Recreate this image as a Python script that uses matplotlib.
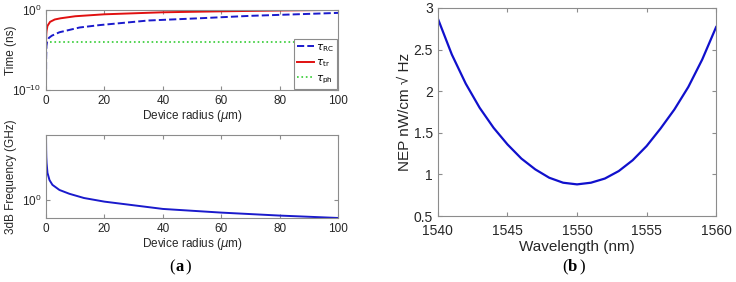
import matplotlib
matplotlib.use("Agg")
import matplotlib.pyplot as plt
from matplotlib.ticker import NullLocator

# (a) top: time constants vs device radius (um), values in ns
r_tr = [0, 0.05, 0.1, 0.2, 0.5, 1.4, 3, 5, 10, 20, 40, 60, 80, 100]
tau_tr = [1.6e-5, 3.2e-4, 1.0e-3, 2.5e-3, 1.0e-2, 3.2e-2, 6.3e-2, 8.9e-2,
          0.16, 0.28, 0.5, 0.66, 0.83, 1.0]
r_rc = [0, 0.05, 0.15, 0.4, 1, 2, 4.6, 11.5, 18.4, 35, 53, 70, 87, 100]
tau_rc = [1e-10, 1e-6, 3e-5, 1.3e-4, 3.2e-4, 6e-4, 1.6e-3, 6.3e-3, 1.26e-2,
          4.7e-2, 9.1e-2, 0.18, 0.29, 0.42]
r_ph = [1.5, 100]
tau_ph = [1e-4, 1e-4]

# (a) bottom: 3dB frequency (GHz)
r_f = [0, 0.05, 0.1, 0.2, 0.5, 1.2, 2.2, 4.6, 8, 13, 20, 40, 60, 80, 100]
f3db = [5.4, 3.6, 3.0, 2.57, 2.0, 1.66, 1.47, 1.29, 1.17, 1.05, 0.957,
        0.794, 0.723, 0.67, 0.63]

# (b) NEP vs wavelength
wl = [1540, 1541, 1542, 1543, 1544, 1545, 1546, 1547, 1548, 1549, 1550,
      1551, 1552, 1553, 1554, 1555, 1556, 1557, 1558, 1559, 1560]
nep = [2.87, 2.44, 2.09, 1.80, 1.56, 1.36, 1.19, 1.06, 0.96, 0.90, 0.88,
       0.90, 0.95, 1.04, 1.17, 1.34, 1.55, 1.78, 2.05, 2.38, 2.77]

plt.rcParams['font.family'] = ['Liberation Sans', 'DejaVu Sans']
plt.rcParams['mathtext.fontset'] = 'dejavusans'
axcol = '#8c8c8c'
txtcol = '#262626'


def style(ax, fs):
    for s in ax.spines.values():
        s.set_color(axcol)
        s.set_linewidth(0.8)
    ax.tick_params(direction='in', top=True, right=True, length=3,
                   color=axcol, labelcolor=txtcol, labelsize=fs, width=0.8)


fig = plt.figure(figsize=(7.36, 2.82), dpi=100)

ax1 = fig.add_axes([0.0625, 0.681, 0.397, 0.284])
ax1.plot(r_rc, tau_rc, '--', color='#1a1acc', lw=1.4, label=r'$\tau_{\rm RC}$')
ax1.plot(r_tr, tau_tr, '-', color='#e01010', lw=1.4, label=r'$\tau_{\rm tr}$')
ax1.plot(r_ph, tau_ph, ':', color='#33cc33', lw=1.2, label=r'$\tau_{\rm ph}$')
ax1.set_yscale('log')
ax1.set_ylim(1e-10, 1)
ax1.set_xlim(0, 100)
ax1.set_yticks([1e-10, 1e0])
ax1.yaxis.set_minor_locator(NullLocator())
ax1.set_xticks([0, 20, 40, 60, 80, 100])
ax1.set_xlabel(r'Device radius ($\mu$m)', fontsize=8.5, color=txtcol, labelpad=1)
ax1.set_ylabel('Time (ns)', fontsize=8.5, color=txtcol)
ax1.yaxis.set_label_coords(-0.10, 0.5)
style(ax1, 8.5)
leg = ax1.legend(loc='lower right', fontsize=7.5, handlelength=1.6,
                 handletextpad=0.2, labelspacing=0.35, borderpad=0.3,
                 fancybox=False, framealpha=1, borderaxespad=0.1)
leg.get_frame().set_edgecolor(axcol)
leg.get_frame().set_linewidth(0.8)

ax2 = fig.add_axes([0.0625, 0.227, 0.397, 0.294])
ax2.plot(r_f, f3db, '-', color='#1a1acc', lw=1.4)
ax2.set_yscale('log')
ax2.set_ylim(0.63, 5.25)
ax2.set_xlim(0, 100)
ax2.set_yticks([1e0])
ax2.yaxis.set_minor_locator(NullLocator())
ax2.set_xticks([0, 20, 40, 60, 80, 100])
ax2.set_xlabel(r'Device radius ($\mu$m)', fontsize=8.5, color=txtcol, labelpad=1)
ax2.set_ylabel('3dB Frequency (GHz)', fontsize=8.5, color=txtcol)
ax2.yaxis.set_label_coords(-0.10, 0.5)
style(ax2, 8.5)

ax3 = fig.add_axes([0.595, 0.234, 0.378, 0.738])
ax3.plot(wl, nep, '-', color='#1010cc', lw=1.6)
ax3.set_xlim(1540, 1560)
ax3.set_ylim(0.5, 3)
ax3.set_xticks([1540, 1545, 1550, 1555, 1560])
ax3.set_yticks([0.5, 1, 1.5, 2, 2.5, 3])
ax3.set_yticklabels(['0.5', '1', '1.5', '2', '2.5', '3'])
ax3.set_xlabel('Wavelength (nm)', fontsize=11, color=txtcol, labelpad=1)
ax3.set_ylabel('NEP nW/cm \u221a Hz', fontsize=11, color=txtcol)
ax3.yaxis.set_label_coords(-0.094, 0.5)
style(ax3, 10)
ax3.tick_params(axis='x', pad=6)

fig.text(0.238, 0.025, '(', fontsize=12, family='Liberation Serif', ha='right', va='bottom')
fig.text(0.238, 0.025, 'a', fontsize=12, family='Liberation Serif', weight='bold', ha='left', va='bottom')
fig.text(0.2525, 0.025, ')', fontsize=12, family='Liberation Serif', ha='left', va='bottom')
fig.text(0.772, 0.025, '(', fontsize=12, family='Liberation Serif', ha='right', va='bottom')
fig.text(0.772, 0.025, 'b', fontsize=12, family='Liberation Serif', weight='bold', ha='left', va='bottom')
fig.text(0.787, 0.025, ')', fontsize=12, family='Liberation Serif', ha='left', va='bottom')

fig.savefig('out.png', dpi=100)
